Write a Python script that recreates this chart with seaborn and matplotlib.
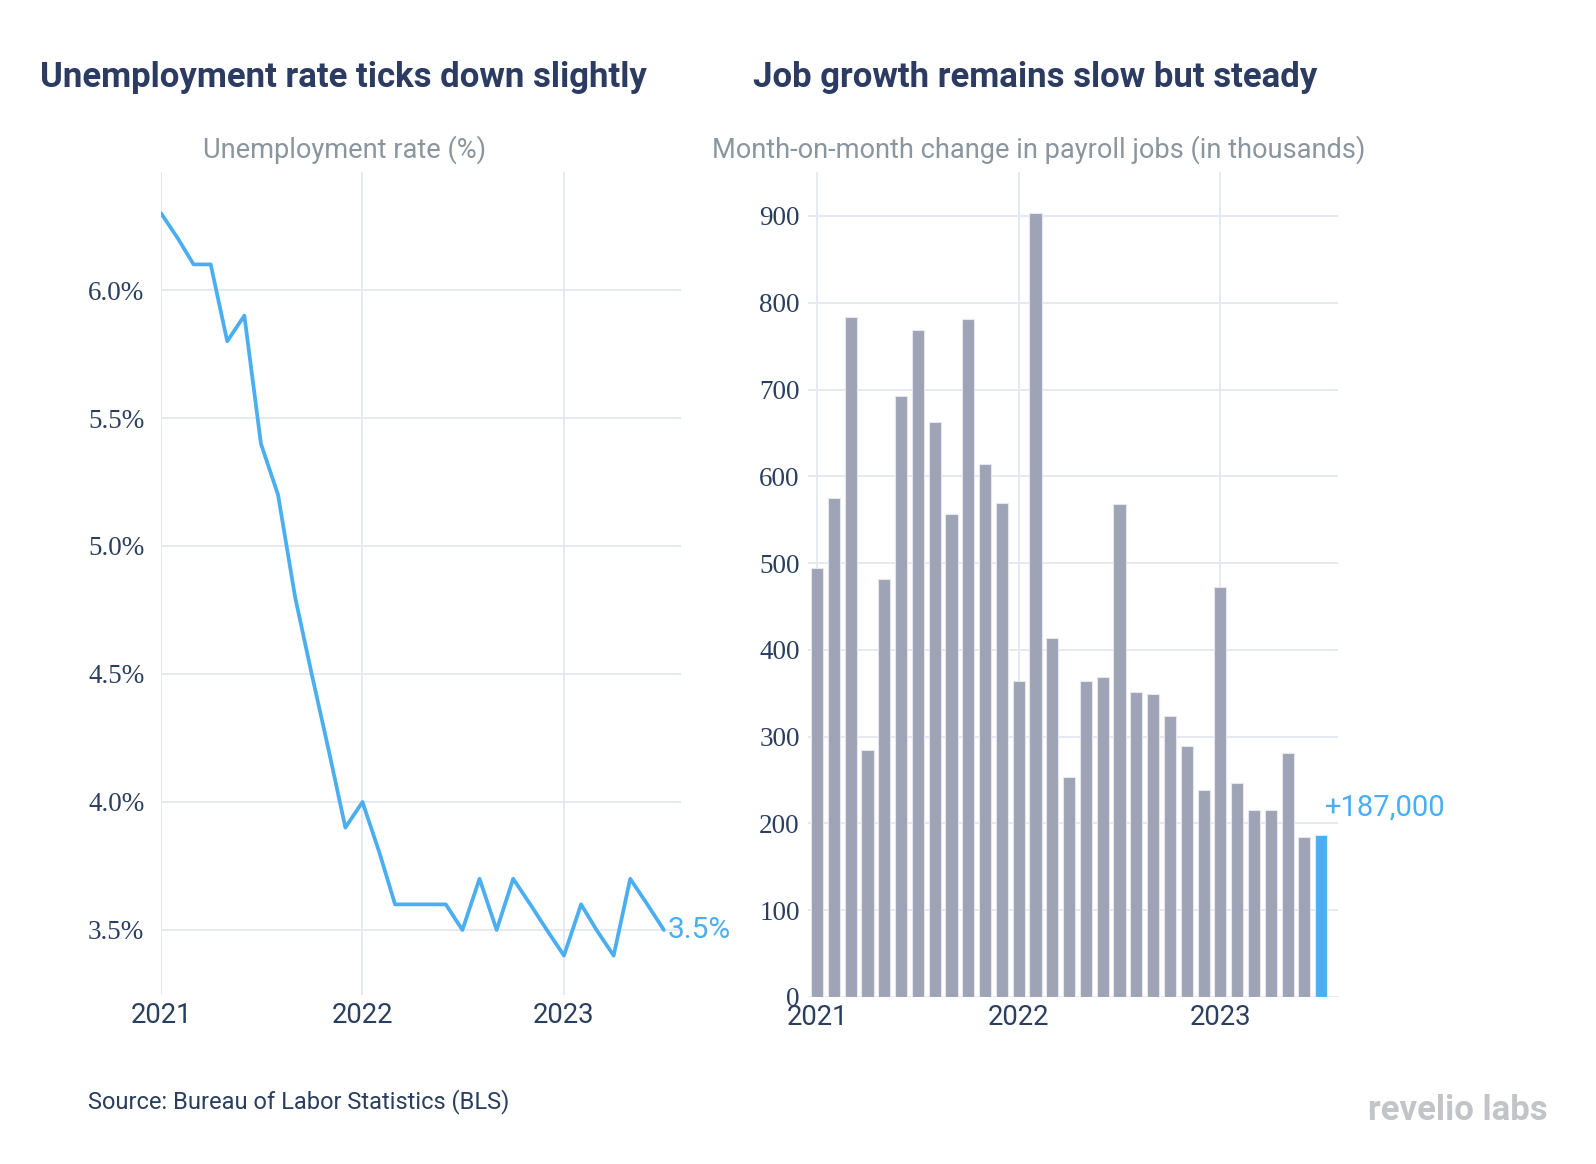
import pandas as pd
import numpy as np
import seaborn as sns
import matplotlib.pyplot as plt

# monthly data, Jan 2021 - Jul 2023
months = pd.date_range('2021-01-01', periods=31, freq='MS')
unemployment_rate = [6.3, 6.2, 6.1, 6.1, 5.8, 5.9, 5.4, 5.2, 4.8, 4.5, 4.2, 3.9,
                     4.0, 3.8, 3.6, 3.6, 3.6, 3.6, 3.5, 3.7, 3.5, 3.7, 3.6, 3.5,
                     3.4, 3.6, 3.5, 3.4, 3.7, 3.6, 3.5]
payroll_change = [494, 575, 784, 285, 482, 693, 769, 663, 557, 781, 614, 569,
                  364, 904, 414, 253, 364, 369, 568, 351, 349, 324, 289, 239,
                  472, 247, 216, 216, 281, 184, 187]
year_ticks = ['2021', '2022', '2023']
rate_ticks = [3.5, 4.0, 4.5, 5.0, 5.5, 6.0]
jobs_ticks = [0, 100, 200, 300, 400, 500, 600, 700, 800, 900]

NAVY = '#2a3f5f'
TITLE = '#2b3b62'
GREY_TXT = '#8b959e'
BLUE = '#4aaef0'
BAR = '#9ea3b5'
GRID = '#e6e9f1'

sns.set_theme(style='white')
plt.rcParams['font.family'] = ['Roboto', 'DejaVu Sans']

W, H = 1596, 1164
fig = plt.figure(figsize=(W / 100, H / 100), dpi=100)

def box(x0, x1, y_top, y_bot):
    return [x0 / W, 1 - y_bot / H, (x1 - x0) / W, (y_bot - y_top) / H]

ax1 = fig.add_axes(box(161, 681, 172, 995))
ax2 = fig.add_axes(box(808, 1338, 172, 997))

# ---- left: unemployment rate line
df_rate = pd.DataFrame({'month': months, 'rate': unemployment_rate})
sns.lineplot(data=df_rate, x='month', y='rate', ax=ax1, color=BLUE, linewidth=2.7)
ax1.set_xlim(pd.Timestamp('2021-01-01'), pd.Timestamp('2023-08-01'))
ax1.set_ylim(3.246, 6.461)
ax1.set_xticks([pd.Timestamp(f'{y}-01-01') for y in year_ticks])
ax1.set_xticklabels(year_ticks)
ax1.set_yticks(rate_ticks)
ax1.set_yticklabels([f'{v:.1f}%' for v in rate_ticks])
ax1.text(df_rate['month'].iloc[-1] + pd.Timedelta(days=6), unemployment_rate[-1],
         f'{unemployment_rate[-1]:.1f}%', color=BLUE, fontsize=21.5,
         va='center', ha='left')
ax1.tick_params(axis='y', pad=12)

# ---- right: payroll bars
df_jobs = pd.DataFrame({'month': months.strftime('%Y-%m'), 'jobs': payroll_change})
df_jobs['latest'] = ['no'] * (len(df_jobs) - 1) + ['yes']
sns.barplot(data=df_jobs, x='month', y='jobs', hue='latest', ax=ax2,
            palette={'no': BAR, 'yes': BLUE}, legend=False, width=0.72,
            edgecolor='#e4e7f0', linewidth=0.8, dodge=False, saturation=1)
ax2.set_xlim(-0.54, 31.0)
ax2.set_ylim(0, 950.7)
ax2.set_xticks([0, 12, 24])
ax2.set_xticklabels(year_ticks)
ax2.set_yticks(jobs_ticks)
ax2.set_yticklabels([str(v) for v in jobs_ticks])
ax2.text(len(payroll_change) - 1 + 0.22, payroll_change[-1] + 31,
         f'+{payroll_change[-1] * 1000:,}', color=BLUE, fontsize=21,
         va='center', ha='left')
ax2.tick_params(axis='y', pad=6)

for ax in (ax1, ax2):
    ax.set_xlabel('')
    ax.set_ylabel('')
    sns.despine(ax=ax, left=True, bottom=True, top=True, right=True)
    ax.grid(True, color=GRID, linewidth=1.4)
    ax.set_axisbelow(True)
    ax.tick_params(length=0, colors=NAVY)
    ax.tick_params(axis='x', labelsize=19.8, pad=5)
    for lab in ax.get_yticklabels():
        lab.set_family('Liberation Serif')
        lab.set_fontsize(19.5)
        lab.set_color(NAVY)
    for lab in ax.get_xticklabels():
        lab.set_color(NAVY)

# titles and subtitles
fig.text(40 / W, 1 - 78 / H, 'Unemployment rate ticks down slightly',
         fontsize=25, fontweight='bold', color=TITLE, va='center', ha='left')
fig.text(753 / W, 1 - 78 / H, 'Job growth remains slow but steady',
         fontsize=25, fontweight='bold', color=TITLE, va='center', ha='left')
fig.text(345 / W, 1 - 150 / H, 'Unemployment rate (%)',
         fontsize=19.6, color=GREY_TXT, va='center', ha='center')
fig.text(1039 / W, 1 - 150 / H, 'Month-on-month change in payroll jobs (in thousands)',
         fontsize=19.6, color=GREY_TXT, va='center', ha='center')

fig.text(88 / W, 1 - 1102 / H, 'Source: Bureau of Labor Statistics (BLS)',
         fontsize=17, color=NAVY, va='center', ha='left')
fig.text(1548 / W, 1 - 1110 / H, 'revelio labs',
         fontsize=25, fontweight='bold', color='#c3c4c8', va='center', ha='right')

fig.savefig('out.png', dpi=100, facecolor='white')
